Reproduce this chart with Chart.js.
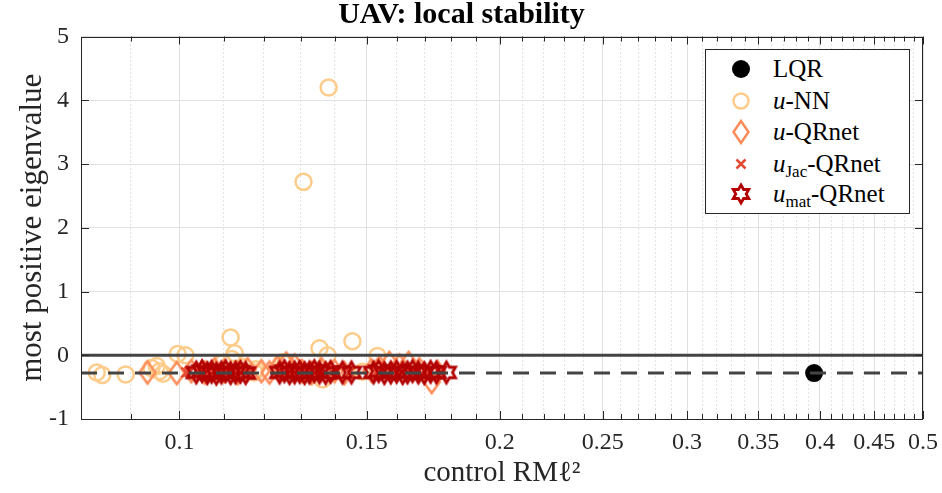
<!DOCTYPE html>
<html>
<head>
<meta charset="utf-8">
<script src="https://cdn.jsdelivr.net/npm/chart.js@4.4.0/dist/chart.umd.min.js"></script>
<style>
  body { margin: 0; background: #fff; }
  #wrap { position: relative; width: 942px; height: 493px; }
  #legend { position: absolute; left: 705px; top: 49px; width: 203px; height: 163px;
            border: 1px solid #262626; background: #fff;
            font-family: 'Liberation Serif', serif; font-size: 25px; color: #000; }
  .row { position: absolute; left: 0; width: 100%; height: 30px; }
  .row svg { position: absolute; left: 20px; top: 0; }
  .row span { position: absolute; left: 67px; top: 0; line-height: 30px; white-space: nowrap; }
  .row sub { font-size: 17px; vertical-align: -5px; line-height: 0; }
</style>
</head>
<body>
<div id="wrap">
  <canvas id="c" width="942" height="493"></canvas>
  <div id="legend">
    <div class="row" style="top:4px"><svg width="30" height="30"><circle cx="15" cy="15" r="9" fill="#000"/></svg><span>LQR</span></div>
    <div class="row" style="top:36px"><svg width="30" height="30"><circle cx="15" cy="15" r="7.5" fill="none" stroke="#fdcc8a" stroke-width="2.5"/></svg><span><i>u</i>-NN</span></div>
    <div class="row" style="top:67px"><svg width="30" height="30"><path d="M15 4 L22.5 15 L15 26 L7.5 15 Z" fill="none" stroke="#fc8d59" stroke-width="2.5"/></svg><span><i>u</i>-QRnet</span></div>
    <div class="row" style="top:99px"><svg width="30" height="30"><path d="M10.5 10.5 L19.5 19.5 M19.5 10.5 L10.5 19.5" stroke="#e34a33" stroke-width="2.5"/></svg><span><i>u</i><sub>Jac</sub>-QRnet</span></div>
    <div class="row" style="top:129px"><svg width="30" height="30" id="starIcon"></svg><span><i>u</i><sub>mat</sub>-QRnet</span></div>
  </div>
</div>
<script>
// axis range and ticks
const xMin = 0.0808, xMax = 0.5;
const xMajor = [0.1, 0.15, 0.2, 0.25, 0.3, 0.35, 0.4, 0.45, 0.5];
const yTicks = [-1, 0, 1, 2, 3, 4, 5];

// LQR
const lqrX = [0.395];
const lqrY = [-0.28];

// u-NN
const nnX = [0.0836, 0.0846, 0.0890, 0.0941, 0.0952, 0.0958, 0.0965, 0.0996, 0.1013, 0.1098,
             0.1117, 0.1127, 0.1120, 0.1151, 0.1176, 0.1179, 0.1250, 0.1258, 0.1308, 0.1354,
             0.1378, 0.1363, 0.1381, 0.1454, 0.1486, 0.1535];
const nnY = [-0.27, -0.31, -0.30, -0.20, -0.17, -0.25, -0.29, 0.02, 0.00, -0.12,
             0.28, 0.03, -0.06, -0.19, -0.27, -0.22, -0.11, -0.13, 2.72, 0.11,
             0.00, -0.38, 4.20, 0.22, -0.26, -0.01];

// u-QRnet
const qrX = [0.0933, 0.0994, 0.1026, 0.1056, 0.1079, 0.1102, 0.1134, 0.1159, 0.1194, 0.1215,
             0.1236, 0.1260, 0.1283, 0.1304, 0.1331, 0.1360, 0.1399, 0.1429, 0.1515, 0.1542,
             0.1575, 0.1610, 0.1642, 0.1681, 0.1726, 0.1748];
const qrY = [-0.27, -0.28, -0.25, -0.27, -0.22, -0.25, -0.28, -0.22, -0.25, -0.27,
             -0.19, -0.13, -0.16, -0.25, -0.28, -0.22, -0.25, -0.28, -0.24, -0.19,
             -0.12, -0.16, -0.12, -0.22, -0.42, -0.26];

// u_Jac-QRnet
const jacX = [0.1015, 0.1022, 0.1044, 0.1058, 0.1076, 0.1090, 0.1109, 0.1124, 0.1146, 0.1159,
              0.1247, 0.1264, 0.1288, 0.1304, 0.1331, 0.1348, 0.1366, 0.1393, 0.1445, 0.1532,
              0.1552, 0.1589, 0.1610, 0.1635, 0.1667, 0.1689, 0.1711, 0.1756];
const jacY = [-0.27, -0.26, -0.28, -0.27, -0.25, -0.27, -0.28, -0.26, -0.27, -0.28,
              -0.26, -0.27, -0.28, -0.27, -0.26, -0.27, -0.28, -0.27, -0.27, -0.26,
              -0.27, -0.28, -0.27, -0.26, -0.27, -0.28, -0.27, -0.27];

// u_mat-QRnet
const matX = [0.1037, 0.1050, 0.1062, 0.1072, 0.1083, 0.1095, 0.1105, 0.1117, 0.1129, 0.1141,
              0.1154, 0.1242, 0.1255, 0.1269, 0.1283, 0.1297, 0.1311, 0.1325, 0.1339, 0.1354,
              0.1372, 0.1387, 0.1423, 0.1451, 0.1522, 0.1539, 0.1558, 0.1580, 0.1600, 0.1621,
              0.1638, 0.1656, 0.1677, 0.1699, 0.1722, 0.1744, 0.1782];
const matY = [-0.27, -0.25, -0.28, -0.26, -0.29, -0.27, -0.25, -0.28, -0.27, -0.26,
              -0.28, -0.27, -0.25, -0.28, -0.27, -0.26, -0.28, -0.27, -0.25, -0.27,
              -0.28, -0.26, -0.27, -0.27, -0.27, -0.25, -0.28, -0.27, -0.26, -0.28,
              -0.27, -0.25, -0.27, -0.28, -0.26, -0.27, -0.27];

// minor x ticks every 0.01
const xMinor = [];
for (let i = 9; i < 50; i++) if (i % 5 !== 0) xMinor.push(i / 100);
const isMajor = v => Math.abs(v * 20 - Math.round(v * 20)) < 1e-6;

const pts = (xs, ys) => xs.map((x, i) => ({x: x, y: ys[i]}));

function markerCanvas(draw) {
  const c = document.createElement('canvas');
  c.width = 28; c.height = 28;
  draw(c.getContext('2d'));
  return c;
}
function hexPath(ctx, cx, cy, R) {
  ctx.beginPath();
  for (let k = 0; k < 12; k++) {
    const a = -Math.PI / 2 + k * Math.PI / 6;
    const r = k % 2 === 0 ? R : R * 0.577;
    const px = cx + r * Math.cos(a), py = cy + r * Math.sin(a);
    k === 0 ? ctx.moveTo(px, py) : ctx.lineTo(px, py);
  }
  ctx.closePath();
}
const diamond = markerCanvas(ctx => {
  ctx.strokeStyle = '#fc8d59'; ctx.lineWidth = 2.5;
  ctx.beginPath();
  ctx.moveTo(14, 3); ctx.lineTo(22, 14); ctx.lineTo(14, 25); ctx.lineTo(6, 14); ctx.closePath();
  ctx.stroke();
});
const hexagram = markerCanvas(ctx => {
  ctx.strokeStyle = '#b30000'; ctx.lineWidth = 2.8;
  hexPath(ctx, 14, 14, 10.5);
  ctx.stroke();
});

// legend star icon
(function () {
  const R = 9, pts2 = [];
  for (let k = 0; k < 12; k++) {
    const a = -Math.PI / 2 + k * Math.PI / 6;
    const r = k % 2 === 0 ? R : R * 0.577;
    pts2.push((15 + r * Math.cos(a)).toFixed(2) + ',' + (15 + r * Math.sin(a)).toFixed(2));
  }
  document.getElementById('starIcon').innerHTML =
    '<polygon points="' + pts2.join(' ') + '" fill="none" stroke="#b30000" stroke-width="2.8"/>';
})();

// frame + inward ticks like MATLAB
const framePlugin = {
  id: 'frame',
  afterDraw(chart) {
    const {ctx, chartArea: a, scales: {x, y}} = chart;
    ctx.save();
    ctx.strokeStyle = '#262626';
    ctx.lineWidth = 1;
    ctx.beginPath();
    xMajor.concat(xMinor).forEach(v => {
      const px = Math.round(x.getPixelForValue(v)) + 0.5;
      const len = isMajor(v) ? 8 : 5;
      ctx.moveTo(px, a.bottom); ctx.lineTo(px, a.bottom - len);
      ctx.moveTo(px, a.top); ctx.lineTo(px, a.top + len);
    });
    yTicks.forEach(v => {
      const py = Math.round(y.getPixelForValue(v)) + 0.5;
      ctx.moveTo(a.left, py); ctx.lineTo(a.left + 8, py);
      ctx.moveTo(a.right, py); ctx.lineTo(a.right - 8, py);
    });
    ctx.stroke();
    ctx.strokeRect(Math.round(a.left) + 0.5, Math.round(a.top) + 0.5,
                   Math.round(a.width) - 1, Math.round(a.height) - 1);
    ctx.restore();
  }
};

const serif = "'Liberation Serif', 'DejaVu Serif', serif";

new Chart(document.getElementById('c'), {
  type: 'scatter',
  data: {
    datasets: [
      { type: 'line', data: [{x: xMin, y: 0}, {x: xMax, y: 0}], borderColor: '#444444',
        borderWidth: 3, pointRadius: 0, order: 0 },
      { type: 'line', data: [{x: xMin, y: lqrY[0]}, {x: xMax, y: lqrY[0]}], borderColor: '#444444',
        borderWidth: 3, borderDash: [16, 11], pointRadius: 0, order: 0 },
      { label: 'u_mat-QRnet', data: pts(matX, matY), pointStyle: hexagram, order: 1 },
      { label: 'u_Jac-QRnet', data: pts(jacX, jacY), pointStyle: 'crossRot', pointRadius: 7,
        borderColor: '#e34a33', borderWidth: 2.5, order: 2 },
      { label: 'u-QRnet', data: pts(qrX, qrY), pointStyle: diamond, order: 3 },
      { label: 'u-NN', data: pts(nnX, nnY), pointStyle: 'circle', pointRadius: 8,
        borderColor: '#fdcc8a', backgroundColor: 'rgba(0,0,0,0)', borderWidth: 2.5, order: 4 },
      { label: 'LQR', data: pts(lqrX, lqrY), pointStyle: 'circle', pointRadius: 9,
        borderColor: '#000', backgroundColor: '#000', borderWidth: 0, order: 5 }
    ]
  },
  options: {
    responsive: false,
    animation: false,
    layout: { padding: { left: 0, right: 19, top: 0, bottom: 0 } },
    plugins: {
      legend: { display: false },
      tooltip: { enabled: false },
      title: {
        display: true,
        text: 'UAV: local stability',
        color: '#000',
        font: { family: serif, size: 30, weight: 'bold', lineHeight: 1.0 },
        padding: { top: 0, bottom: 6.5 }
      }
    },
    scales: {
      x: {
        type: 'logarithmic',
        min: xMin, max: xMax,
        afterBuildTicks: s => { s.ticks = xMajor.concat(xMinor).sort((a, b) => a - b).map(v => ({value: v})); },
        afterFit: s => { s.height = 74; s.paddingLeft = 0; s.paddingRight = 0; },
        ticks: {
          autoSkip: false, maxRotation: 0, padding: 9,
          color: '#262626',
          font: { family: serif, size: 24 },
          callback: v => isMajor(v) ? String(+v.toFixed(2)) : ''
        },
        grid: {
          drawTicks: false,
          lineWidth: 1,
          color: c => c.tick && isMajor(c.tick.value) ? '#e0e0e0' : '#c4c4c4'
        },
        border: { display: false, dash: c => c.tick && !isMajor(c.tick.value) ? [1, 3] : [] },
        title: {
          display: true, text: 'control RMℓ²', color: '#262626',
          font: { family: serif, size: 29 }, padding: { top: 0, bottom: 2.5 }
        }
      },
      y: {
        min: -1, max: 5,
        afterBuildTicks: s => { s.ticks = yTicks.map(v => ({value: v})); },
        afterFit: s => { s.width = 81; },
        ticks: { padding: 12, color: '#262626', font: { family: serif, size: 24 } },
        grid: { drawTicks: false, lineWidth: 1, color: '#e0e0e0' },
        border: { display: false },
        title: {
          display: true, text: 'most positive eigenvalue', color: '#262626',
          font: { family: serif, size: 31 }, padding: { top: 14.5, bottom: 0 }
        }
      }
    }
  },
  plugins: [framePlugin]
});
</script>
</body>
</html>
